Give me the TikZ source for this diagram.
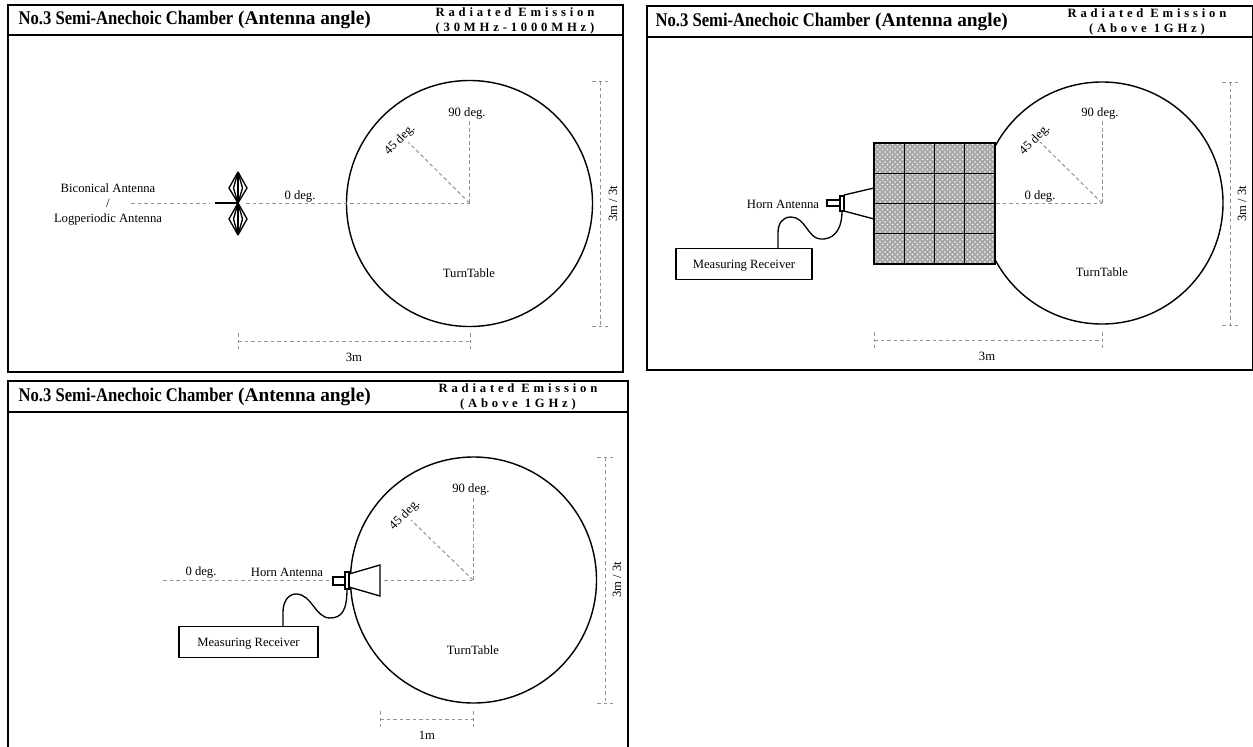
\documentclass[tikz,border=0pt]{standalone}
\usepackage{fontspec}
\setmainfont{Liberation Serif}
\newfontfamily\headfont[LetterSpace=30]{Liberation Serif}
\newfontfamily\titlefont[FakeStretch=0.86]{Liberation Serif}
\usetikzlibrary{patterns}
\tikzset{
  frameline/.style={line width=0.9pt},
  tableline/.style={line width=0.85pt},
  partline/.style={line width=0.8pt},
  dashline/.style={gray!85,line width=0.6pt,dash pattern=on 2.2pt off 1.7pt},
  lbl/.style={inner sep=0.75pt,font=\fontsize{7.6}{9}\selectfont},
  titlelbl/.style={anchor=west,inner sep=0.75pt,font=\bfseries\fontsize{11.6}{14}\selectfont},
  headlbl/.style={inner sep=0.75pt,align=center,font=\headfont\bfseries\fontsize{7.6}{9}\selectfont},
  boxlbl/.style={lbl,draw,line width=0.8pt,minimum height=18.6pt,text depth=0pt},
  absorber/.style={draw,line width=0.65pt,preaction={fill=gray!70},pattern=crosshatch dots,pattern color=white}
}
\begin{document}
\begin{tikzpicture}[x=0.6pt,y=0.6pt,yscale=-1,xscale=1]
\useasboundingbox (0,0) rectangle (1253,747);

%Panel: Biconical
\draw [frameline] (8,5) rectangle (623,372);
\draw [frameline] (8,35) -- (623,35);
\draw [tableline] (469.5,203.5) circle (123);
%Dashed: angles
\coordinate (centerA) at (469.5,203);
\coordinate (farA) at (131,203);
\coordinate (stubA) at (215,203);
\coordinate (feedA) at (238,203);
\coordinate (nearA) at (246,203);
\draw [dashline] (farA) -- (210,203);
\draw [dashline] (nearA) -- (centerA);
\draw [dashline] (centerA) -- (469.5,119);
\draw [dashline] (centerA) -- (408,142);
%Shape: Biconical antenna
\draw [partline,line width=1.1pt] (stubA) -- (feedA);
\foreach \w in {-9,-4.5,0,4.5,9} {
  \draw [partline] (238,172) -- (238+\w,188) -- (feedA);
  \draw [partline] (feedA) -- (238+\w,219) -- (238,235);
}
%Dashed: dimensions
\draw [dashline] (600,81) -- (600,326);
\draw [dashline] (592,81) -- (608,81);
\draw [dashline] (592,326) -- (608,326);
\draw [dashline] (238,341) -- (470,341);
\draw [dashline] (238,333) -- (238,349);
\draw [dashline] (470,333) -- (470,349);

% Text Node
\node (titleA) [titlelbl] at (17,20) {{\titlefont No.3 Semi-Anechoic Chamber} (Antenna angle)};
\node (headA) [headlbl] at (515,20.5) {Radiated Emission\\(30MHz-1000MHz)};
\node (biconA) [lbl] at (108,188) {Biconical Antenna};
\node (slashA) [lbl] at (108,203) {/};
\node (logA) [lbl] at (108,219) {Logperiodic Antenna};
\node (zeroA) [lbl] at (300,196) {0 deg.};
\node (ninetyA) [lbl] at (467,113) {90 deg.};
\node (fortyA) [lbl,rotate=45] at (400,140) {45 deg.};
\node (tableA) [lbl] at (469,273) {TurnTable};
\node (heightA) [lbl,rotate=90] at (613,204) {3m / 3t};
\node (widthA) [lbl] at (354,357) {3m};

%Panel: Absorber
\draw [frameline] (647,6) rectangle (1253,370);
\draw [frameline] (647,37) -- (1253,37);
\draw [tableline] (1102,203) circle (121);
\coordinate (centerB) at (1102,203);
\draw [dashline] (996,203) -- (centerB);
\draw [dashline] (centerB) -- (1102,120);
\draw [dashline] (centerB) -- (1040,142);
%Shape: Absorber grid
\foreach \i in {0,1,2,3} {
  \foreach \j in {0,1,2,3} {
    \draw [absorber] (874+\i*30.25,143+\j*30.25) rectangle ++(30.25,30.25);
  }
}
%Shape: Horn antenna
\draw [partline] (844,195) -- (874,188);
\draw [partline] (844,211) -- (874,219);
\draw [partline,fill=white] (840,196) rectangle (844,211);
\draw [partline,line width=1.1pt,fill=white] (827,200) rectangle (840,206);
%Dashed: dimensions
\draw [dashline] (1230,82) -- (1230,325);
\draw [dashline] (1222,82) -- (1238,82);
\draw [dashline] (1222,325) -- (1238,325);
\draw [dashline] (874,340) -- (1102,340);
\draw [dashline] (874,332) -- (874,348);
\draw [dashline] (1102,332) -- (1102,348);

% Text Node
\node (titleB) [titlelbl] at (654,22) {{\titlefont No.3 Semi-Anechoic Chamber} (Antenna angle)};
\node (headB) [headlbl] at (1147,22) {Radiated Emission\\(Above 1GHz)};
\node (hornB) [lbl] at (783,204) {Horn Antenna};
\node (recvB) [boxlbl,minimum width=81.6pt] at (744,264) {Measuring Receiver};
\node (zeroB) [lbl] at (1040,196) {0 deg.};
\node (ninetyB) [lbl] at (1100,113) {90 deg.};
\node (fortyB) [lbl,rotate=45] at (1035,140) {45 deg.};
\node (tableB) [lbl] at (1102,272) {TurnTable};
\node (heightB) [lbl,rotate=90] at (1242,204) {3m / 3t};
\node (widthB) [lbl] at (987,356) {3m};
%Curve: cable
\coordinate (plugB) at (842,211);
\coordinate (portB) at (778,248);
\draw [partline] (plugB) .. controls (842,232) and (832,240) .. (820,239) .. controls (808,238) and (805,217) .. (791,217) .. controls (782,217) and (778,224) .. (778,233) -- (portB);

%Panel: Close horn
\draw [frameline] (8,747) -- (8,381) -- (628,381) -- (628,747);
\draw [frameline] (8,412) -- (628,412);
\draw [tableline] (473.5,580) circle (123);
\coordinate (centerC) at (473,580);
\coordinate (farC) at (163,580);
\draw [dashline] (farC) -- (centerC);
\draw [dashline] (centerC) -- (473,496);
\draw [dashline] (centerC) -- (411,520);
%Shape: Horn antenna
\draw [partline,fill=white] (349,574) -- (380,565) -- (380,596) -- (349,587) -- cycle;
\draw [partline,fill=white] (345,572) rectangle (349,589);
\draw [partline,line width=1.1pt,fill=white] (333,577) rectangle (345,585);
%Dashed: dimensions
\draw [dashline] (605,457) -- (605,703);
\draw [dashline] (597,457) -- (613,457);
\draw [dashline] (597,703) -- (613,703);
\draw [dashline] (380,719) -- (473,719);
\draw [dashline] (380,711) -- (380,727);
\draw [dashline] (473,711) -- (473,727);

% Text Node
\node (titleC) [titlelbl] at (17,397) {{\titlefont No.3 Semi-Anechoic Chamber} (Antenna angle)};
\node (headC) [headlbl] at (518,396.5) {Radiated Emission\\(Above 1GHz)};
\node (hornC) [lbl] at (287,572) {Horn Antenna};
\node (recvC) [boxlbl,minimum width=83.4pt] at (248.5,642) {Measuring Receiver};
\node (zeroC) [lbl] at (201,572) {0 deg.};
\node (ninetyC) [lbl] at (471,489) {90 deg.};
\node (fortyC) [lbl,rotate=45] at (405,515) {45 deg.};
\node (tableC) [lbl] at (473,650) {TurnTable};
\node (heightC) [lbl,rotate=90] at (617,580) {3m / 3t};
\node (widthC) [lbl] at (427,735) {1m};
%Curve: cable
\coordinate (plugC) at (347,589);
\coordinate (portC) at (283,626);
\draw [partline] (plugC) .. controls (347,610) and (342,618) .. (330,618) .. controls (315,618) and (312,594) .. (296,594) .. controls (288,594) and (283,602) .. (283,612) -- (portC);

\end{tikzpicture}
\end{document}
